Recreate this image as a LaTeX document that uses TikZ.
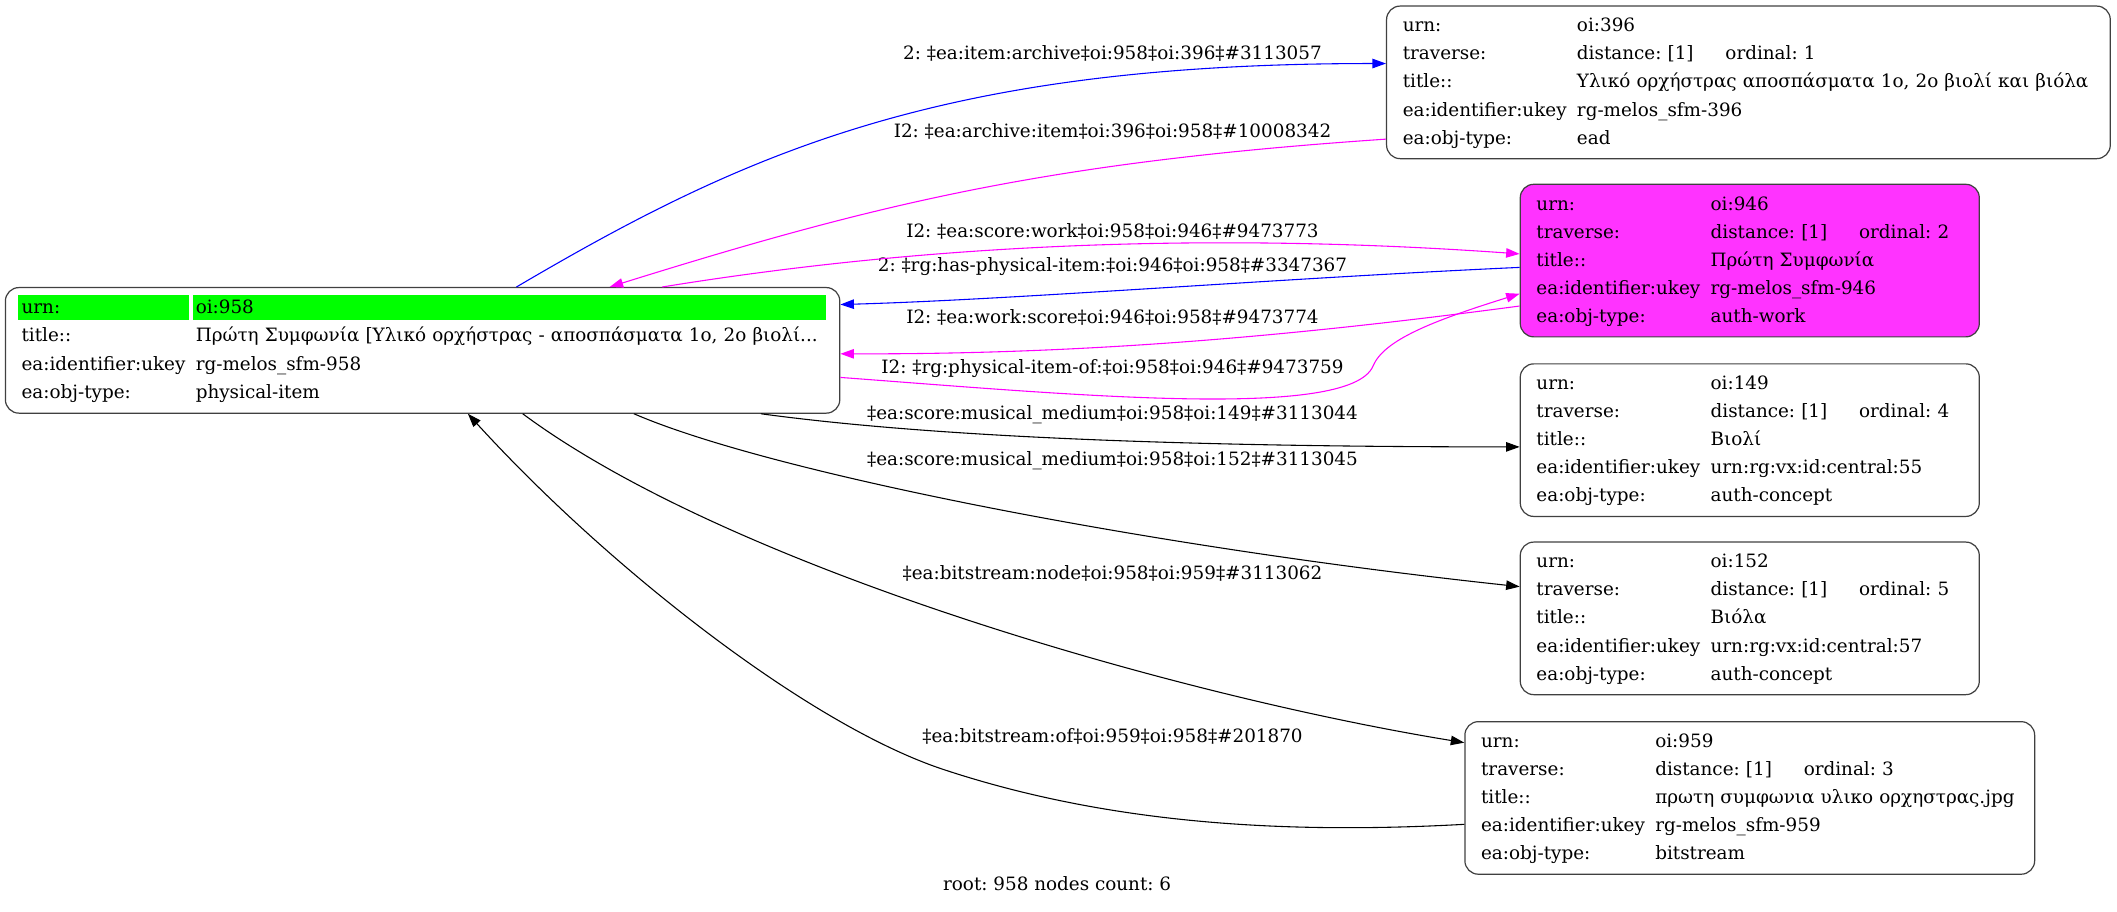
\documentclass[tikz,border=0pt]{standalone}
\usepackage{fontspec}
\setmainfont{DejaVu Serif}
\usetikzlibrary{arrows.meta}
\usetikzlibrary{backgrounds}
\frenchspacing
\definecolor{edgemag}{HTML}{FF00FF}
\definecolor{edgeblue}{HTML}{0000FF}
\definecolor{workfill}{HTML}{FF33FF}
\definecolor{rootgreen}{HTML}{00FF00}
\tikzset{>={Triangle[length=10pt,width=7pt]}}
\tikzset{rec/.style={draw=black!75,line width=0.9pt,rounded corners=10pt,align=left,
  inner xsep=12pt,inner ysep=0pt,minimum height=113pt,font=\fontsize{13.6}{20.8}\selectfont}}
\tikzset{lbl/.style={inner sep=0pt,anchor=base,font=\fontsize{13.6}{16}\selectfont}}
\tikzset{blu/.style={->,draw=edgeblue,line width=0.8pt},
  mag/.style={->,draw=edgemag,line width=0.8pt},
  blk/.style={->,draw=black,line width=0.8pt}}
\newcommand{\rw}[2]{\mbox{\strut\makebox[129pt][l]{#1}#2}}
\newcommand{\trv}[1]{\makebox[110pt][l]{distance: [1]}ordinal: #1}

\begin{document}
\begin{tikzpicture}[x=1pt,y=-1pt]
    \useasboundingbox (0,0) rectangle (1568,674.8);
    \node[rec,text width=594pt,minimum height=93pt] (n958) at (313,259.5) {%
      \rw{urn:}{oi:958}\\
      \rw{title::}{Πρώτη Συμφωνία [Υλικό ορχήστρας - αποσπάσματα 1ο, 2ο βιολί...}\\
      \rw{ea:identifier:ukey}{rg-melos\_sfm-958}\\
      \rw{ea:obj-type:}{physical-item}};
    \begin{scope}[on background layer]
      \fill[rootgreen] ([xshift=10pt,yshift=-6.3pt]n958.north west) rectangle ([xshift=136.6pt,yshift=-24.5pt]n958.north west);
      \fill[rootgreen] ([xshift=139.3pt,yshift=-6.3pt]n958.north west) rectangle ([xshift=608.3pt,yshift=-24.5pt]n958.north west);
    \end{scope}
    \node[rec,text width=512pt] (n396) at (1295,61) {%
      \rw{urn:}{oi:396}\\
      \rw{traverse:}{\trv{1}}\\
      \rw{title::}{Υλικό ορχήστρας αποσπάσματα 1ο, 2ο βιολί και βιόλα}\\
      \rw{ea:identifier:ukey}{rg-melos\_sfm-396}\\
      \rw{ea:obj-type:}{ead}};
    \node[rec,text width=316pt,fill=workfill] (n946) at (1296,193) {%
      \rw{urn:}{oi:946}\\
      \rw{traverse:}{\trv{2}}\\
      \rw{title::}{Πρώτη Συμφωνία}\\
      \rw{ea:identifier:ukey}{rg-melos\_sfm-946}\\
      \rw{ea:obj-type:}{auth-work}};
    \node[rec,text width=316pt] (n149) at (1296,326) {%
      \rw{urn:}{oi:149}\\
      \rw{traverse:}{\trv{4}}\\
      \rw{title::}{Βιολί}\\
      \rw{ea:identifier:ukey}{urn:rg:vx:id:central:55}\\
      \rw{ea:obj-type:}{auth-concept}};
    \node[rec,text width=316pt] (n152) at (1296,458) {%
      \rw{urn:}{oi:152}\\
      \rw{traverse:}{\trv{5}}\\
      \rw{title::}{Βιόλα}\\
      \rw{ea:identifier:ukey}{urn:rg:vx:id:central:57}\\
      \rw{ea:obj-type:}{auth-concept}};
    \node[rec,text width=398pt] (n959) at (1296,591) {%
      \rw{urn:}{oi:959}\\
      \rw{traverse:}{\trv{3}}\\
      \rw{title::}{πρωτη συμφωνια υλικο ορχηστρας.jpg}\\
      \rw{ea:identifier:ukey}{rg-melos\_sfm-959}\\
      \rw{ea:obj-type:}{bitstream}};
    % edge labels
    \node[lbl] (l1) at (824,44) {2: ‡ea:item:archive‡oi:958‡oi:396‡\#3113057};
    \node[lbl] (l2) at (824,102) {I2: ‡ea:archive:item‡oi:396‡oi:958‡\#10008342};
    \node[lbl] (l3) at (824,176) {I2: ‡ea:score:work‡oi:958‡oi:946‡\#9473773};
    \node[lbl] (l4) at (824,201) {2: ‡rg:has-physical-item:‡oi:946‡oi:958‡\#3347367};
    \node[lbl] (l5) at (824,239.5) {I2: ‡ea:work:score‡oi:946‡oi:958‡\#9473774};
    \node[lbl] (l6) at (824,277) {I2: ‡rg:physical-item-of:‡oi:958‡oi:946‡\#9473759};
    \node[lbl] (l7) at (824,310.5) {‡ea:score:musical\_medium‡oi:958‡oi:149‡\#3113044};
    \node[lbl] (l8) at (824,345) {‡ea:score:musical\_medium‡oi:958‡oi:152‡\#3113045};
    \node[lbl] (l9) at (824,429) {‡ea:bitstream:node‡oi:958‡oi:959‡\#3113062};
    \node[lbl] (l10) at (824,550) {‡ea:bitstream:of‡oi:959‡oi:958‡\#201870};
    \node[lbl] (foot) at (783,659.5) {root: 958 nodes count: 6};
    % edges
    \draw[blu] ([xshift=379pt]n958.north west) .. controls (555,111) and (700,47) .. ([yshift=-43pt]n396.north west);
    \draw[mag] ([yshift=-99pt]n396.north west) .. controls (777,120) and (652,150) .. ([xshift=448pt]n958.north west);
    \draw[mag] ([xshift=487pt]n958.north west) .. controls (691,180) and (900,172) .. ([yshift=-52pt]n946.north west);
    \draw[blu] ([yshift=-62pt]n946.north west) .. controls (950,206) and (750,222) .. ([yshift=-13pt]n958.north east);
    \draw[mag] ([yshift=-90.6pt]n946.north west) .. controls (950,250) and (800,262.5) .. ([yshift=-49.5pt]n958.north east);
    \draw[mag] ([yshift=-67pt]n958.north east) .. controls (790,292) and (1000,312) .. (1017,271)
      .. controls (1025,252) and (1060,238) .. ([yshift=-81.5pt]n946.north west);
    \draw[blk] ([xshift=560pt]n958.south west) .. controls (700,325) and (900,331) .. ([yshift=-5pt]n149.west);
    \draw[blk] ([xshift=466pt]n958.south west) .. controls (570,350) and (850,405) .. ([yshift=23.5pt]n152.west);
    \draw[blk] ([xshift=383.6pt]n958.south west) .. controls (540,420) and (870,515) .. ([yshift=-16pt]n959.north west);
    \draw[blk] ([yshift=-76.5pt]n959.north west) .. controls (950,618) and (820,610) .. (699,570)
      .. controls (599,537) and (450,420) .. ([xshift=343pt]n958.south west);
\end{tikzpicture}
\end{document}
